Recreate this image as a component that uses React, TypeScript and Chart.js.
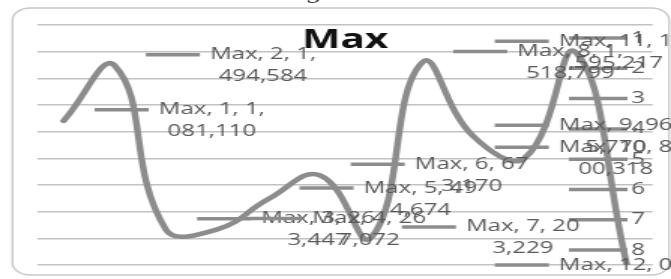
import React, { useEffect, useRef } from "react";
import { Chart, registerables } from "chart.js";

Chart.register(...registerables);

// ---- data ----
const seriesName = "Max";
const categories = ["1", "2", "3", "4", "5", "6", "7", "8", "9", "10", "11", "12"];
const maxValues = [1081110, 1494584, 263447, 267072, 494674, 673170, 203229, 1518799, 965770, 800318, 1595217, 0];
const legendLabels = ["1", "2", "3", "4", "5", "6", "7", "8"];
const yMin = 0;
const yMax = 1800000;
const yStep = 200000;

// ---- geometry (internal canvas is stretched horizontally by CSS) ----
const CSS_W = 671;
const CSS_H = 279;
const SX = 1.5;
const CW = Math.round(CSS_W / SX); // 447
const CH = CSS_H;

const LINE_COLOR = "#8c8c8c";
const TEXT_COLOR = "#595959";
const LABEL_FONT = '16px "Open Sans"';

const fmt = (v: number) => v.toLocaleString("en-US");

const decoPlugin = {
  id: "deco",
  beforeDraw(chart: any) {
    const ctx = chart.ctx as CanvasRenderingContext2D;
    ctx.save();
    ctx.fillStyle = "#ffffff";
    ctx.fillRect(0, 0, chart.width, chart.height);
    // rounded chart border
    ctx.strokeStyle = "#c8c8c8";
    ctx.lineWidth = 1.3;
    ctx.beginPath();
    (ctx as any).roundRect(8.3, 8, 437.5, 267, 12);
    ctx.stroke();
    // cut-off glyph at the very top
    ctx.fillStyle = "#333";
    ctx.font = '18px "DejaVu Serif"';
    ctx.textAlign = "center";
    ctx.textBaseline = "alphabetic";
    ctx.fillText("g", 209, -1);
    ctx.restore();
  },
  afterDatasetsDraw(chart: any) {
    const ctx = chart.ctx as CanvasRenderingContext2D;
    const xs = chart.scales.x;
    const ys = chart.scales.y;
    ctx.save();
    // title
    ctx.font = 'bold 27px "Open Sans"';
    ctx.fillStyle = "#111111";
    ctx.textAlign = "center";
    ctx.textBaseline = "middle";
    ctx.fillText(seriesName, (chart.chartArea.left + chart.chartArea.right) / 2, 40);

    // legend
    ctx.font = LABEL_FONT;
    ctx.textAlign = "left";
    ctx.strokeStyle = LINE_COLOR;
    ctx.lineWidth = 3.5;
    legendLabels.forEach((lab, k) => {
      const y = 38 + k * 30.3;
      ctx.beginPath();
      ctx.moveTo(379, y);
      ctx.lineTo(418, y);
      ctx.stroke();
      ctx.fillStyle = TEXT_COLOR;
      ctx.fillText(lab, 420.5, y);
    });

    // data labels with legend keys
    const KEY_OFF = 20.7;
    const KEY_LEN = 36;
    const GAP = 6.7;
    const LH = 22;
    const LIMIT = CW + 1;
    maxValues.forEach((v, i) => {
      const text = `${seriesName}, ${categories[i]}, ${fmt(v)}`;
      const lines = text.length > 10 ? [text.slice(0, 10), text.slice(10)] : [text];
      const w0 = ctx.measureText(lines[0]).width;
      const w = Math.max(...lines.map((l) => ctx.measureText(l).width));
      const px = xs.getPixelForValue(i);
      const py = ys.getPixelForValue(v);
      let keyX = px + KEY_OFF;
      let textX = keyX + KEY_LEN + GAP;
      if (textX + w > LIMIT) {
        const d = textX + w - LIMIT;
        keyX -= d;
        textX -= d;
      }
      const y1 = lines.length > 1 ? py - LH / 2 : py;
      ctx.strokeStyle = LINE_COLOR;
      ctx.lineWidth = 3.5;
      ctx.beginPath();
      ctx.moveTo(keyX, y1);
      ctx.lineTo(keyX + KEY_LEN, y1);
      ctx.stroke();
      ctx.fillStyle = TEXT_COLOR;
      ctx.textAlign = "left";
      ctx.fillText(lines[0], textX, y1);
      if (lines[1]) {
        ctx.textAlign = "center";
        ctx.fillText(lines[1], textX + w0 / 2, y1 + LH);
      }
    });
    ctx.restore();
  },
};

export default function App() {
  const ref = useRef<HTMLCanvasElement>(null);
  useEffect(() => {
    if (!ref.current) return;
    const chart = new Chart(ref.current, {
      type: "line",
      data: {
        labels: categories,
        datasets: [
          {
            label: seriesName,
            data: maxValues,
            borderColor: LINE_COLOR,
            borderWidth: 4.5,
            borderCapStyle: "round",
            borderJoinStyle: "round",
            tension: 0.45,
            pointRadius: 0,
            fill: false,
          },
        ],
      },
      options: {
        responsive: false,
        animation: false,
        devicePixelRatio: 1,
        layout: { padding: { left: 25.3, right: 12.3, top: 25, bottom: 14 } },
        plugins: {
          legend: { display: false },
          title: { display: false },
          tooltip: { enabled: false },
        },
        scales: {
          x: { type: "category", offset: true, display: false },
          y: {
            min: yMin,
            max: yMax,
            ticks: { stepSize: yStep, display: false },
            grid: { color: "#c2c2c2", lineWidth: 1.4, drawTicks: false },
            border: { display: false },
            afterFit: (s: any) => {
              s.width = 0;
            },
          },
        },
      },
      plugins: [decoPlugin],
    } as any);
    return () => chart.destroy();
  }, []);
  return (
    <div
      style={{
        position: "fixed",
        left: 0,
        top: 0,
        width: CSS_W,
        height: CSS_H,
        background: "#fff",
        overflow: "hidden",
      }}
    >
      <canvas
        ref={ref}
        width={CW}
        height={CH}
        style={{ width: `${CSS_W}px`, height: `${CSS_H}px`, display: "block" }}
      />
    </div>
  );
}
